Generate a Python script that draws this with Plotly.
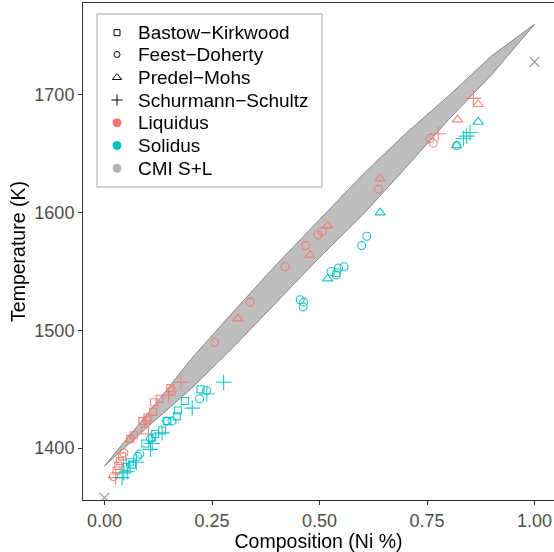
import plotly.graph_objects as go

# Cu-Ni phase diagram: measured liquidus/solidus points from four studies,
# plus the CMI solid+liquid band and the pure-element melting points.

# Bastow-Kirkwood (squares)
bk_liq_x = [0.028, 0.032, 0.036, 0.041, 0.060, 0.068, 0.088, 0.094, 0.100, 0.113, 0.115, 0.128, 0.153]
bk_liq_y = [1381, 1385, 1389, 1393, 1408, 1411, 1423, 1415, 1426, 1431, 1439, 1442, 1451]
bk_sol_x = [0.051, 0.059, 0.064, 0.095, 0.111, 0.118, 0.134, 0.146, 0.168, 0.171, 0.187, 0.223]
bk_sol_y = [1384, 1388, 1386, 1404, 1409, 1412, 1415, 1423, 1427, 1432, 1440, 1450]

# Feest-Doherty (circles)
fd_liq_x = [0.021, 0.045, 0.060, 0.099, 0.157, 0.256, 0.339, 0.420, 0.468, 0.496, 0.506, 0.637, 0.757, 0.764]
fd_liq_y = [1376, 1396, 1408, 1424, 1449, 1490, 1524, 1554, 1572, 1581, 1584, 1620, 1663, 1659]
fd_sol_x = [0.077, 0.082, 0.107, 0.144, 0.157, 0.221, 0.237, 0.455, 0.462, 0.463, 0.527, 0.539, 0.540,
            0.544, 0.557, 0.598, 0.610, 0.819]
fd_sol_y = [1393, 1395, 1408, 1423, 1423, 1442, 1449, 1526, 1520, 1524, 1550, 1547, 1549,
            1553, 1554, 1572, 1580, 1657]

# Predel-Mohs (triangles)
pm_liq_x = [0.310, 0.478, 0.519, 0.641, 0.821, 0.869]
pm_liq_y = [1510, 1564, 1589, 1629, 1679, 1692]
pm_sol_x = [0.519, 0.641, 0.819, 0.869]
pm_sol_y = [1544, 1600, 1657, 1677]

# Schurmann-Schultz (plus signs)
ss_liq_x = [0.026, 0.149, 0.178, 0.776, 0.858]
ss_liq_y = [1375, 1445, 1456, 1667, 1697]
ss_sol_x = [0.041, 0.045, 0.053, 0.074, 0.107, 0.111, 0.134, 0.204, 0.238, 0.277, 0.835, 0.842, 0.850]
ss_sol_y = [1375, 1379, 1380, 1388, 1399, 1404, 1413, 1434, 1446, 1456, 1663, 1665, 1668]

# CMI solid+liquid band
band_x = [0.0, 0.1, 0.2, 0.3, 0.4, 0.5, 0.6, 0.7, 0.8, 0.9, 1.0]
band_upper = [1385, 1429, 1475, 1516, 1556, 1594, 1632, 1667, 1699, 1733, 1760]
band_lower = [1385, 1418, 1450, 1486, 1524, 1562, 1598, 1638, 1679, 1717, 1760]

# Pure Cu and pure Ni melting points
melt_x = [0.0, 1.0]
melt_y = [1358, 1728]

# Legend labels
legend_labels = ["Bastow−Kirkwood", "Feest−Doherty", "Predel−Mohs", "Schurmann−Schultz",
                 "Liquidus", "Solidus", "CMI S+L"]

LIQ = "#F8766D"
SOL = "#00BFC4"
BAND_FILL = "#BEBEBE"
BAND_LINE = "#858585"
FONT = "Liberation Sans, Arial, sans-serif"

W, H = 554, 552
ML, MR, MT, MB = 83, 0, 3, 52

fig = go.Figure()

# band polygon: upper edge left->right, lower edge right->left
fig.add_trace(go.Scatter(
    x=band_x + band_x[::-1],
    y=band_upper + band_lower[::-1],
    fill="toself", fillcolor=BAND_FILL,
    line=dict(color=BAND_LINE, width=1),
    mode="lines", hoverinfo="skip", showlegend=False,
))

series = [
    (bk_liq_x, bk_liq_y, "square-open", 7, LIQ),
    (bk_sol_x, bk_sol_y, "square-open", 7, SOL),
    (fd_liq_x, fd_liq_y, "circle-open", 8, LIQ),
    (fd_sol_x, fd_sol_y, "circle-open", 8, SOL),
    (pm_liq_x, pm_liq_y, "triangle-up-open", 9, LIQ),
    (pm_sol_x, pm_sol_y, "triangle-up-open", 9, SOL),
    (ss_liq_x, ss_liq_y, "cross-thin-open", 11, LIQ),
    (ss_sol_x, ss_sol_y, "cross-thin-open", 11, SOL),
]
for xs, ys, sym, size, col in series:
    fig.add_trace(go.Scatter(
        x=xs, y=ys, mode="markers", showlegend=False, opacity=0.9,
        marker=dict(symbol=sym, size=size, color=col, line=dict(width=1.1, color=col)),
    ))

fig.add_trace(go.Scatter(
    x=melt_x, y=melt_y, mode="markers", showlegend=False,
    marker=dict(symbol="x-thin-open", size=10, color="#999999", line=dict(width=1.2, color="#999999")),
))

# Legend drawn by hand on a pixel-scaled overlay axis
leg_left, leg_top, leg_right, leg_bottom = 97, 14, 322, 187
row_y = [32.7, 54.5, 77.5, 100, 122.7, 145.5, 168.3]
key_x = 117
text_x = 136
key_styles = [
    ("square-open", 6, "black"),
    ("circle-open", 6, "black"),
    ("triangle-up-open", 8, "black"),
    ("cross-thin-open", 8, "black"),
    ("circle", 8, LIQ),
    ("circle", 8, SOL),
    ("circle", 8, "#B3B3B3"),
]
for (sym, size, col), yy in zip(key_styles, row_y):
    fig.add_trace(go.Scatter(
        x=[key_x], y=[yy], xaxis="x2", yaxis="y2", mode="markers", showlegend=False,
        hoverinfo="skip",
        marker=dict(symbol=sym, size=size, color=col, line=dict(width=1, color=col)),
    ))

fig.add_shape(type="rect", xref="x2", yref="y2", x0=leg_left, x1=leg_right, y0=leg_top, y1=leg_bottom,
              line=dict(color="#A6A6A6", width=1), fillcolor="rgba(0,0,0,0)", layer="below")
for label, yy in zip(legend_labels, row_y):
    fig.add_annotation(x=text_x, y=yy, xref="x2", yref="y2", text=label, showarrow=False,
                       xanchor="left", yanchor="middle",
                       font=dict(family=FONT, size=19, color="black"))

axis_common = dict(
    showgrid=False, zeroline=False, showline=True, linecolor="#333333", linewidth=1,
    ticks="outside", ticklen=4, tickcolor="#333333", tickwidth=1,
    tickfont=dict(family=FONT, size=18, color="#4D4D4D"),
    title_font=dict(family=FONT, size=19.5, color="black"),
)

fig.update_layout(
    width=W, height=H,
    margin=dict(l=ML, r=MR, t=MT, b=MB),
    paper_bgcolor="white", plot_bgcolor="white",
    font=dict(family=FONT),
    showlegend=False,
    xaxis=dict(range=[-0.05, 1.0453], tickvals=[0, 0.25, 0.5, 0.75, 1.0],
               ticktext=["0.00", "0.25", "0.50", "0.75", "1.00"],
               title=dict(text="Composition (Ni %)", standoff=1), mirror=True, **axis_common),
    yaxis=dict(range=[1356, 1778], tickvals=[1400, 1500, 1600, 1700],
               title=dict(text="Temperature (K)", standoff=3), **axis_common),
    xaxis2=dict(overlaying="x", range=[ML, W - MR], visible=False, fixedrange=True),
    yaxis2=dict(overlaying="y", range=[H - MB, MT], visible=False, fixedrange=True),
)

fig.write_html("out.html")
